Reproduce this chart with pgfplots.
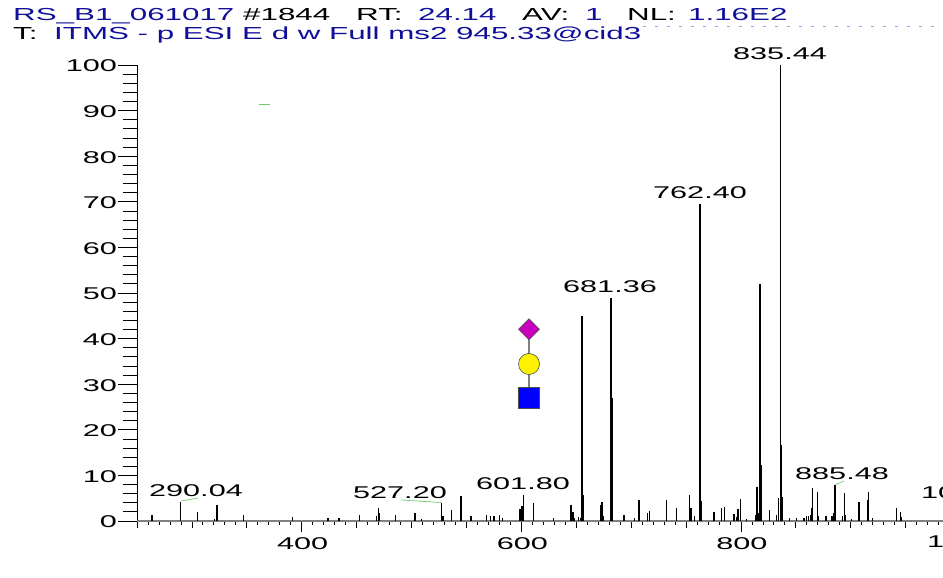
\documentclass[border=0pt]{standalone}
\usepackage{fontspec}
\setmainfont[FakeStretch=1.8]{Liberation Sans}
\usepackage{pgfplots}
\usepackage{pgfplotstable}
\pgfplotsset{compat=1.18}
\definecolor{thermoblue}{HTML}{0F0F9A}
\definecolor{leader}{HTML}{6CCB6C}
\newcommand{\lab}{\fontsize{17bp}{18bp}\selectfont}
\newcommand{\hdr}{\fontsize{17.4bp}{18bp}\selectfont}
\pgfplotstableread{
mz h
263.6 1.3
289.7 4.2
305 1.9
320.5 0.4
322.8 3.4
346.9 1.3
391.8 0.95
424 0.6
434 0.6
452.6 1.3
468.3 1.1
469.9 2.8
471.1 1.8
485.2 1.3
503 1.7
509.1 0.45
527.3 3.9
528.5 1
536.4 2.4
545.2 5.5
554.3 1
568.3 1.3
571.9 1.2
575.2 1.1
580.1 1.3
582.9 0.6
598.9 2.6
600.5 3.3
602 5.8
611.1 3.9
629.3 0.6
645.4 3.4
646.9 1.9
648.1 0.6
651.8 0.9
654 0.6
655.3 45
656.3 5.7
672.2 3.4
673.4 4.1
674.5 1.1
681.6 49
682.5 27
693.4 1.3
702.8 0.6
707.3 4.6
715 1.8
716.5 2.2
732.4 4.5
741.4 2.9
753.3 5.6
754.7 2.8
757.5 1.2
762.7 69.5
764.2 4.4
775.4 2
782.4 2.8
784.8 3
793.6 1.5
796.1 0.8
797.3 2.6
799.7 4.8
805.2 0.5
813.7 1.3
814.6 7.4
815.8 1.7
817.3 52
818.2 12.3
826.2 2.4
832.5 1.3
834 5
835.8 100
836.9 16.7
837.6 5.3
844 0.6
850.8 0.7
857.4 0.7
859.9 1.2
861.3 1.1
863.5 1.3
864.4 2.9
865.4 7.2
869.9 6.4
870.8 1.2
877.5 1.2
882.9 1
884.5 1.7
885.7 7.9
892.7 1.1
894.5 6.1
895.4 1.3
900.9 0.5
907.5 4.2
915.5 4.5
916 6.3
919.7 0.6
941.9 2.9
945.5 2
946.4 0.8
}\peaks
\pgfplotsset{msaxis/.style={
  at={(137bp,57bp)}, anchor=origin,
  scale only axis, width=806.4bp, height=456bp,
  xmin=250, xmax=984.4, ymin=0, ymax=100,
  axis lines*=left,
  clip=false,
  tick align=outside,
  tick style={black, line width=0.8bp},
  tick label style={font=\lab, black},
  /pgf/number format/assume math mode=true,
}}
\begin{document}
\begin{tikzpicture}[x=1bp,y=1bp]
\useasboundingbox (0,0) rectangle (943,578);
\clip (0,0) rectangle (943,578);
% y axis
\begin{axis}[msaxis,
  axis line style={-, black, line width=0.8bp},
  x axis line style={draw=none},
  xtick=\empty,
  ytick={0,10,...,100},
  minor ytick={2,4,...,98},
  major tick length=19bp, minor tick length=14bp,
  yticklabel style={xshift=2.5bp, yshift=-1bp},
]
\end{axis}
% x axis: medium ticks
\begin{axis}[msaxis,
  axis line style={draw=none},
  ytick=\empty,
  xtick={250,300,350,450,500,550,650,700,750,850,900,950},
  xticklabels={},
  major tick length=7bp,
]
\end{axis}
% x axis: long and small ticks, and the spectrum
\begin{axis}[msaxis,
  axis line style={draw=none},
  x axis line style={draw=gray, -, line width=1.2bp},
  ytick=\empty,
  xtick={400,600,800},
  minor xtick={260,270,...,980},
  major tick length=11bp, minor tick length=4bp,
  xticklabel style={yshift=-2bp, xshift=1bp},
]
\addplot[ycomb, black, line width=1.4bp, mark=none] table[x=mz,y=h] {\peaks};
\end{axis}
% leader lines and dotted title remnant
\draw[leader, line width=0.7bp] (259,474) -- (270,474);
\draw[leader, line width=0.7bp] (181,77) -- (198,80);
\draw[leader, line width=0.7bp] (401,78) -- (441,75.5);
\draw[leader, line width=0.7bp] (835,93) -- (844,97);
\draw[blue!40, line width=0.6bp, dash pattern=on 3bp off 9bp] (643,552) -- (943,552);
% glycan
\draw[gray, line width=1.2bp] (529,249) -- (529,180);
\filldraw[fill=blue, draw=black!70, line width=0.6bp] (518.4,169.4) rectangle (539.6,190.4);
\filldraw[fill=yellow, draw=black!70, line width=0.6bp] (529,214) circle (10.5);
\filldraw[fill={rgb,255:red,200;green,0;blue,190}, draw=black!70, line width=0.6bp] (529,259.3) -- (539.5,248.8) -- (529,238.3) -- (518.5,248.8) -- cycle;
% peak labels
\node[font=\lab, black] at (780,524) {835.44};
\node[font=\lab, black] at (700,385) {762.40};
\node[font=\lab, black] at (610,291) {681.36};
\node[font=\lab, black] at (842,104) {885.48};
\node[font=\lab, black] at (523,94) {601.80};
\node[font=\lab, black] at (400,85) {527.20};
\node[font=\lab, black] at (196,87) {290.04};
\node[font=\lab, black, anchor=west, inner sep=0pt] at (921,85) {10};
\node[font=\lab, black, anchor=west, inner sep=0pt] at (927,36) {1};
% header
\node[font=\hdr, thermoblue, anchor=base west, inner sep=0pt] at (13,557.5) {RS\_B1\_061017};
\node[font=\hdr, black, anchor=base west, inner sep=0pt] at (243,557.5) {\#1844};
\node[font=\hdr, black, anchor=base west, inner sep=0pt] at (356,557.5) {RT:};
\node[font=\hdr, thermoblue, anchor=base west, inner sep=0pt] at (418,557.5) {24.14};
\node[font=\hdr, black, anchor=base west, inner sep=0pt] at (522,557.5) {AV:};
\node[font=\hdr, thermoblue, anchor=base west, inner sep=0pt] at (585,557.5) {1};
\node[font=\hdr, black, anchor=base west, inner sep=0pt] at (627,557.5) {NL:};
\node[font=\hdr, thermoblue, anchor=base west, inner sep=0pt] at (688,557.5) {1.16E2};
\node[font=\hdr, black, anchor=base west, inner sep=0pt] at (13,538.5) {T:};
\node[font=\hdr, thermoblue, anchor=base west, inner sep=0pt] at (54,538.5) {ITMS - p ESI E d w Full ms2 945.33@cid3};
\end{tikzpicture}
\end{document}
